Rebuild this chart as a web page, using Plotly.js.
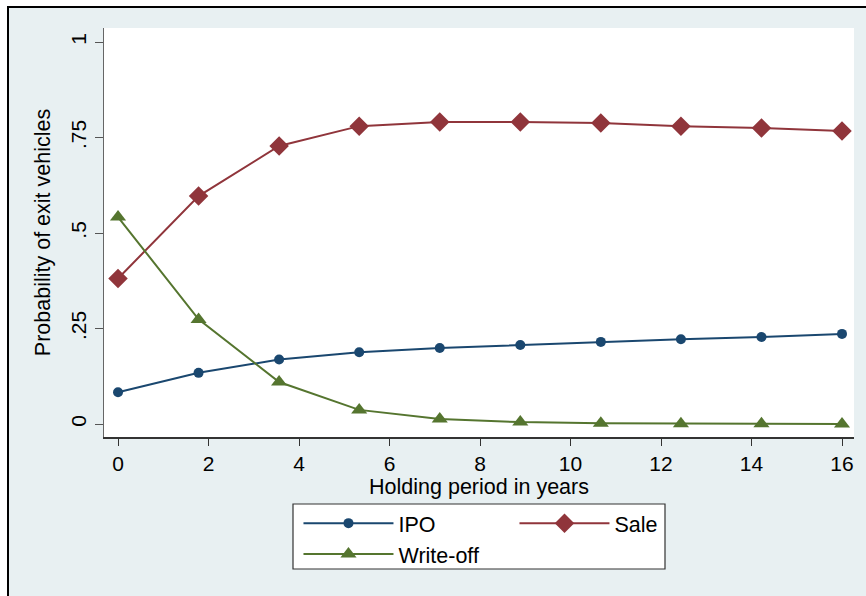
<!DOCTYPE html>
<html>
<head>
<meta charset="utf-8">
<script src="https://cdn.plot.ly/plotly-3.0.1.min.js"></script>
<style>
  html, body { margin: 0; padding: 0; background: #ffffff; }
  #frame { position: absolute; left: 7px; top: 6px; width: 859px; height: 590px;
           box-sizing: border-box; border-left: 2px solid #000; border-top: 2px solid #000;
           background: rgb(232,240,242); }
  #chart { position: absolute; left: 0; top: 0; width: 866px; height: 596px; }
</style>
</head>
<body>
<div id="frame"></div>
<div id="chart"></div>
<script>
// Data
var years    = [0, 1.78, 3.56, 5.33, 7.11, 8.89, 10.67, 12.44, 14.22, 16];
var ipo      = [0.083, 0.134, 0.169, 0.188, 0.199, 0.207, 0.215, 0.222, 0.228, 0.236];
var sale     = [0.381, 0.597, 0.728, 0.780, 0.791, 0.791, 0.788, 0.780, 0.775, 0.767];
var writeoff = [0.542, 0.274, 0.110, 0.037, 0.013, 0.005, 0.002, 0.001, 0.0005, 0.0003];

var xTickVals = [0, 2, 4, 6, 8, 10, 12, 14, 16];
var yTickVals = [0, 0.25, 0.5, 0.75, 1];
var yTickText = ['0', '.25', '.5', '.75', '1'];
var yGridVals = [0, 0.25, 0.5, 0.75];

var seriesNames = ['IPO', 'Sale', 'Write-off'];
var colors = ['#1a476f', '#90353b', '#55752f'];

var FONT = 'Liberation Sans, Arial, sans-serif';

var traces = [
  { x: years, y: ipo, name: seriesNames[0], type: 'scatter', mode: 'lines+markers',
    line: { color: colors[0], width: 2 },
    marker: { symbol: 'circle', size: 10, color: colors[0] }, legend: 'legend' },
  { x: years, y: sale, name: seriesNames[1], type: 'scatter', mode: 'lines+markers',
    line: { color: colors[1], width: 2 },
    marker: { symbol: 'diamond', size: 15, color: colors[1] }, legend: 'legend2' },
  { x: years, y: writeoff, name: seriesNames[2], type: 'scatter', mode: 'lines+markers',
    line: { color: colors[2], width: 2 },
    marker: { symbol: 'triangle-up', size: 14, color: colors[2] }, legend: 'legend' }
];

var yRange = [-0.034, 1.037];

var layout = {
  width: 866, height: 596,
  paper_bgcolor: 'rgba(0,0,0,0)',
  plot_bgcolor: '#ffffff',
  margin: { l: 104, r: 12, t: 28, b: 159 },
  font: { family: FONT, size: 21, color: '#000' },
  showlegend: true,
  xaxis: {
    range: [-0.31, 16.265],
    tickvals: xTickVals,
    ticks: 'outside', ticklen: 7, tickcolor: '#333', tickwidth: 1,
    showline: true, linecolor: '#333', linewidth: 1.5,
    showgrid: false, zeroline: false,
    tickfont: { family: FONT, size: 21 },
    title: { text: 'Holding period in years', font: { family: FONT, size: 21.5 }, standoff: 2 }
  },
  yaxis: {
    range: yRange,
    tickvals: yTickVals, ticktext: yTickText,
    tickangle: -90,
    ticks: 'outside', ticklen: 8, tickcolor: '#555', tickwidth: 1,
    showline: true, linecolor: '#666', linewidth: 1.5,
    showgrid: false, zeroline: false,
    tickfont: { family: FONT, size: 21 },
    title: { text: 'Probability of exit vehicles', font: { family: FONT, size: 21.5 }, standoff: 10 }
  },
  yaxis2: {
    overlaying: 'y', range: yRange,
    tickvals: yGridVals, showticklabels: false, ticks: '',
    showgrid: true, gridcolor: 'rgb(232,240,242)', gridwidth: 1.5,
    zeroline: false, showline: false
  },
  legend: {
    x: 0.2593, xanchor: 'left', y: -0.1606, yanchor: 'top',
    orientation: 'v', bgcolor: 'rgba(0,0,0,0)', borderwidth: 0,
    itemwidth: 90, tracegroupgap: 0,
    font: { family: FONT, size: 21.5 }
  },
  legend2: {
    x: 0.5473, xanchor: 'left', y: -0.1606, yanchor: 'top',
    orientation: 'v', bgcolor: 'rgba(0,0,0,0)', borderwidth: 0,
    itemwidth: 90,
    font: { family: FONT, size: 21.5 }
  },
  shapes: [
    { type: 'rect', xref: 'paper', yref: 'paper',
      x0: (293 - 104) / 750, x1: (665 - 104) / 750,
      y0: (437 - 569) / 409, y1: (437 - 504) / 409,
      line: { color: '#333', width: 1.2 }, fillcolor: '#ffffff', layer: 'below' }
  ]
};

Plotly.newPlot('chart', traces, layout, { displayModeBar: false, staticPlot: true });
</script>
</body>
</html>
